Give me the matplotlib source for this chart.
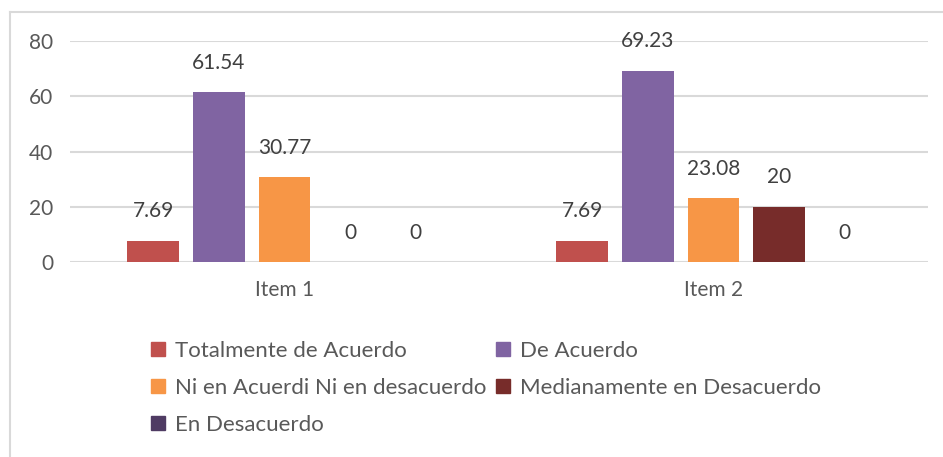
import matplotlib
matplotlib.use("Agg")
import matplotlib.pyplot as plt
import numpy as np
from matplotlib.lines import Line2D
from matplotlib.patches import Patch

plt.rcParams['font.family'] = ['Lato', 'DejaVu Sans']

categories = ["Item 1", "Item 2"]
series_names = ["Totalmente de Acuerdo", "De Acuerdo", "Ni en Acuerdi Ni en desacuerdo",
                "Medianamente en Desacuerdo", "En Desacuerdo"]
totalmente = [7.69, 7.69]
de_acuerdo = [61.54, 69.23]
ni_ni = [30.77, 23.08]
medianamente = [0, 20]
en_desacuerdo = [0, 0]
values = [totalmente, de_acuerdo, ni_ni, medianamente, en_desacuerdo]
colors = ["#c0504d", "#8064a2", "#f79646", "#772c2a", "#4f3b63"]

W, H = 943, 457
fig = plt.figure(figsize=(W/100, H/100), dpi=100)
ax = fig.add_axes([70/W, (H-262)/H, (928-70)/W, (262-41)/H])

x = np.arange(len(categories))
step = 0.153
bw = 0.121
for i, (vals, c) in enumerate(zip(values, colors)):
    b = ax.bar(x + (i-2)*step, vals, width=bw, color=c, zorder=3)
    ax.bar_label(b, labels=[f"{v:g}" for v in vals], padding=14, fontsize=15, color="#404040")

ax.set_xlim(-0.5, 1.5)
ax.set_ylim(0, 80)
ax.set_yticks([0, 20, 40, 60, 80])
ax.set_xticks(x)
ax.set_xticklabels(categories)
ax.grid(axis='y', color='#d9d9d9', linewidth=1.5, zorder=0)
for s in ax.spines.values():
    s.set_visible(False)
ax.tick_params(axis='both', length=0, labelsize=15, colors='#595959')
ax.tick_params(axis='y', pad=12)
ax.tick_params(axis='x', pad=13)

handles = [Patch(color=c) for c in colors]
order = [0, 2, 4, 1, 3]
leg = fig.legend([handles[i] for i in order], [series_names[i] for i in order],
                 ncol=2, loc='upper left', bbox_to_anchor=(151/W, 1-341/H),
                 frameon=False, fontsize=16, handlelength=0.62, handleheight=0.62,
                 handletextpad=0.45, columnspacing=0.45, labelspacing=0.76,
                 borderaxespad=0, borderpad=0)
for t in leg.get_texts():
    t.set_color('#595959')

fig.add_artist(Line2D([10/W, 1], [1-12/H, 1-12/H], color='#d9d9d9', lw=1.5))
fig.add_artist(Line2D([10/W, 10/W], [0, 1-12/H], color='#d9d9d9', lw=1.5))

fig.savefig("out.png", dpi=100)
